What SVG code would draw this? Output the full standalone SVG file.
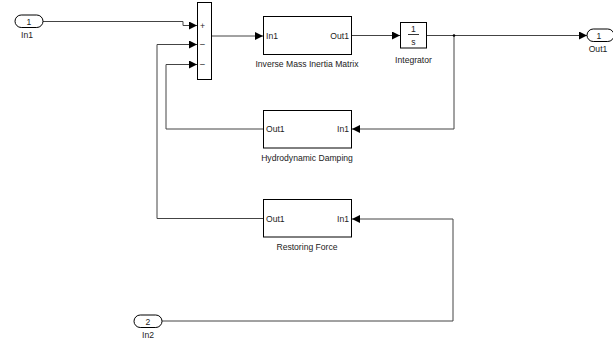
<svg xmlns="http://www.w3.org/2000/svg" width="613" height="340" viewBox="0 0 613 340">
<style>
.blk{fill:#fff;stroke:#000;stroke-width:1}
.ln{fill:none;stroke:#444;stroke-width:1}
text{font-family:"Liberation Sans",Arial,sans-serif;font-size:8.6px;fill:#222}
.c{text-anchor:middle}
.r{text-anchor:end}
</style>
<defs>
<marker id="ar" markerWidth="8" markerHeight="8" refX="8" refY="4" orient="auto" markerUnits="userSpaceOnUse">
<path d="M0,0 L8,4 L0,8 Z" fill="#000"/>
</marker>
</defs>
<rect width="613" height="340" fill="#fff"/>
<g id="connectors">
<path class="ln" d="M43,21.5 H183 V25.5 H197" marker-end="url(#ar)"/>
<path class="ln" d="M211,36 H263" marker-end="url(#ar)"/>
<path class="ln" d="M352,35.5 H400" marker-end="url(#ar)"/>
<path class="ln" d="M427,35.5 H587" marker-end="url(#ar)"/>
<path class="ln" d="M454,35.5 V129 H352" marker-end="url(#ar)"/>
<path class="ln" d="M263,129 H166 V64.5 H197" marker-end="url(#ar)"/>
<path class="ln" d="M263,218.5 H157 V44.5 H197" marker-end="url(#ar)"/>
<path class="ln" d="M162,321 H453 V219 H352" marker-end="url(#ar)"/>
<circle cx="454" cy="35.5" r="1.3" fill="#000"/>
</g>
<g id="In1">
<rect class="blk" x="15" y="15" width="28" height="12.5" rx="6.25"/>
<text class="c" x="29" y="24.5">1</text>
<text class="c" x="27" y="38">In1</text>
</g>
<g id="Sum">
<rect class="blk" x="197.5" y="2.5" width="14" height="77"/>
<text x="200" y="29">+</text>
<text x="200" y="47">–</text>
<text x="200" y="67">–</text>
</g>
<g id="InverseMass">
<rect class="blk" x="263.5" y="16.5" width="88" height="38"/>
<text x="266" y="38.5">In1</text>
<text class="r" x="349" y="38.5">Out1</text>
<text class="c" x="307" y="66.5">Inverse Mass Inertia Matrix</text>
</g>
<g id="Integrator">
<rect class="blk" x="400.5" y="22.5" width="26" height="25.5"/>
<text class="c" x="413.5" y="32">1</text>
<line x1="408" y1="34.5" x2="419" y2="34.5" stroke="#000" stroke-width="0.8"/>
<text class="c" x="413.5" y="44.5">s</text>
<text class="c" x="413.5" y="62.5">Integrator</text>
</g>
<g id="Out1">
<rect class="blk" x="587" y="29" width="27" height="12.5" rx="6.25"/>
<text class="c" x="599" y="38.5">1</text>
<text class="c" x="598" y="52">Out1</text>
</g>
<g id="Hydro">
<rect class="blk" x="263.5" y="110.5" width="88" height="37.5"/>
<text x="266" y="132">Out1</text>
<text class="r" x="349" y="132">In1</text>
<text class="c" x="307" y="160.5">Hydrodynamic Damping</text>
</g>
<g id="Restoring">
<rect class="blk" x="263.5" y="199.5" width="88" height="37.5"/>
<text x="266" y="221.5">Out1</text>
<text class="r" x="349" y="221.5">In1</text>
<text class="c" x="307" y="249.5">Restoring Force</text>
</g>
<g id="In2">
<rect class="blk" x="134" y="315" width="28" height="12.5" rx="6.25"/>
<text class="c" x="148" y="324.5">2</text>
<text class="c" x="148" y="338">In2</text>
</g>
</svg>
